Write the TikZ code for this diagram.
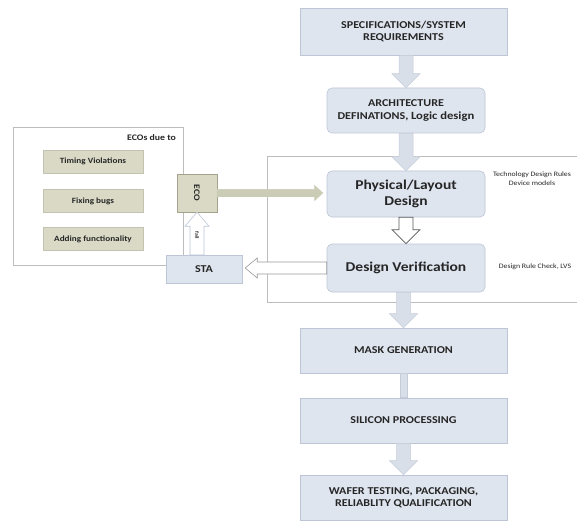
\documentclass[tikz,border=0pt]{standalone}
\usepackage{fontspec}
\setmainfont{Carlito}[FakeStretch=1.15]
\usetikzlibrary{calc}

\definecolor{boxfill}{HTML}{DFE5EF}
\definecolor{boxline}{HTML}{BCC6D6}
\definecolor{arrowfill}{HTML}{D9DFE9}
\definecolor{arrowline}{HTML}{C6CDD9}
\definecolor{ecofill}{HTML}{D9D9C6}
\definecolor{ecoline}{HTML}{A3A38C}
\definecolor{ecoarrow}{HTML}{CBCCB5}
\definecolor{frameline}{HTML}{BDBDBD}
\definecolor{inktext}{HTML}{262626}

\newcommand{\downblock}[3][]{%
  \draw[#1] let \p1=(#2.south), \p2=(#3.north) in
    (\x2-7pt,\y1) -- (\x2+7pt,\y1) -- (\x2+7pt,\y2+14pt) -- (\x2+14pt,\y2+14pt)
    -- (\x2,\y2) -- (\x2-14pt,\y2+14pt) -- (\x2-7pt,\y2+14pt) -- cycle;}
\newcommand{\upblock}[3][]{%
  \draw[#1] let \p1=(#2.north), \p2=(#3.south) in
    (\x2-7pt,\y1) -- (\x2+7pt,\y1) -- (\x2+7pt,\y2-14pt) -- (\x2+12pt,\y2-14pt)
    -- (\x2,\y2) -- (\x2-12pt,\y2-14pt) -- (\x2-7pt,\y2-14pt) -- cycle;}
\newcommand{\leftblock}[3][]{%
  \draw[#1] let \p1=(#2.west), \p2=(#3.east) in
    (\x1,\y1+6pt) -- (\x2+15pt,\y1+6pt) -- (\x2+15pt,\y1+10pt) -- (\x2+3pt,\y1)
    -- (\x2+15pt,\y1-10pt) -- (\x2+15pt,\y1-6pt) -- (\x1,\y1-6pt) -- cycle;}
\newcommand{\rightblock}[3][]{%
  \draw[#1] let \p1=(#2.east), \p2=(#3.west) in
    (\x1,\y1+3.5pt) -- (\x2-12pt,\y1+3.5pt) -- (\x2-12pt,\y1+7.5pt) -- (\x2-4pt,\y1)
    -- (\x2-12pt,\y1-7.5pt) -- (\x2-12pt,\y1-3.5pt) -- (\x1,\y1-3.5pt) -- cycle;}

\begin{document}
\begin{tikzpicture}[x=1pt,y=-1pt]
\tikzstyle{every node}=[font=\footnotesize, text=inktext]
\tikzstyle{flowbox}=[draw=boxline, fill=boxfill, line width=0.6pt, inner sep=0pt, align=center,
  font=\bfseries\fontsize{10.5}{12.5}\selectfont]
\tikzstyle{roundbox}=[flowbox, rounded corners=5pt, minimum width=158pt]
\tikzstyle{causebox}=[draw=ecofill!90!black, fill=ecofill, inner sep=0pt, minimum width=100pt,
  minimum height=23pt, font=\bfseries\fontsize{8}{9}\selectfont]
\tikzstyle{blockarrow}=[fill=arrowfill, draw=arrowline, line width=0.5pt]
\tikzstyle{hollowarrow}=[fill=white, draw=black!65, line width=0.7pt]
\tikzstyle{sidenote}=[align=center, inner sep=0pt, font=\fontsize{6.8}{8.5}\selectfont]
\useasboundingbox (0,0) rectangle (577,521);

\fill[white] (0,0) rectangle (577,521);
\draw[frameline, line width=0.7pt] (577,156) -- (267,156) -- (267,302) -- (577,302);
\draw[frameline, line width=0.7pt] (13,127) rectangle (183,265);

\node[flowbox, minimum width=207pt, minimum height=47pt] (spec) at (403.5,31.5) {SPECIFICATIONS/SYSTEM\\REQUIREMENTS};
\node[roundbox, minimum height=45pt] (arch) at (406,110.5) {ARCHITECTURE\\DEFINATIONS, {\fontsize{11}{12.5}\selectfont Logic design}};
\node[roundbox, minimum height=46pt, font=\bfseries\fontsize{13.5}{16}\selectfont] (phys) at (406,194) {Physical/Layout\\Design};
\node[roundbox, minimum height=48pt, font=\bfseries\fontsize{13.5}{16}\selectfont] (verif) at (406,268) {Design Verification};
\node[flowbox, minimum width=207pt, minimum height=45pt] (mask) at (403.5,350.5) {MASK GENERATION};
\node[flowbox, minimum width=207pt, minimum height=45pt] (silicon) at (403.5,420.5) {SILICON PROCESSING};
\node[flowbox, minimum width=207pt, minimum height=45pt] (wafer) at (403.5,497.5) {WAFER TESTING, PACKAGING,\\RELIABLITY QUALIFICATION};

\node[sidenote] (rules) at (532,178.5) {Technology Design Rules\\Device models};
\node[sidenote] (checks) at (535,267) {Design Rule Check, LVS};

\node[anchor=east, inner sep=0pt, font=\bfseries\fontsize{8.5}{10}\selectfont] (ecodue) at (176,138) {ECOs due to};
\node[causebox] (timing) at (93,161.5) {Timing Violations};
\node[causebox] (bugs) at (93,201) {Fixing bugs};
\node[causebox] (adding) at (93,239) {Adding functionality};

\node[draw=ecoline, fill=ecofill, minimum width=40pt, minimum height=38pt, inner sep=0pt] (eco) at (197,193)
  {\rotatebox{-90}{\bfseries\fontsize{8.5}{10}\selectfont ECO}};
\node[draw=boxline, fill=boxfill, minimum width=76pt, minimum height=28pt, inner sep=0pt,
  font=\bfseries\fontsize{10.5}{12}\selectfont] (sta) at (204,269) {STA};

\downblock[blockarrow]{spec}{arch}
\downblock[blockarrow]{arch}{phys}
\downblock[hollowarrow]{phys}{verif}
\downblock[blockarrow]{verif}{mask}
\draw[blockarrow] ($(mask.south)+(-3.5,0)$) rectangle ($(silicon.north)+(3.5,0)$);
\downblock[blockarrow]{silicon}{wafer}
\rightblock[fill=ecoarrow, draw=ecoarrow, line width=0.5pt]{eco}{phys}
\leftblock[fill=white, draw=black!40, line width=0.6pt]{verif}{sta}
\upblock[fill=white, draw=boxline, line width=0.6pt]{sta}{eco}
\node[rotate=-90, inner sep=0pt, font=\bfseries\fontsize{5}{6}\selectfont] (fail)
  at ($(eco.south)!0.55!(eco.south |- sta.north)$) {fail};

\end{tikzpicture}
\end{document}
